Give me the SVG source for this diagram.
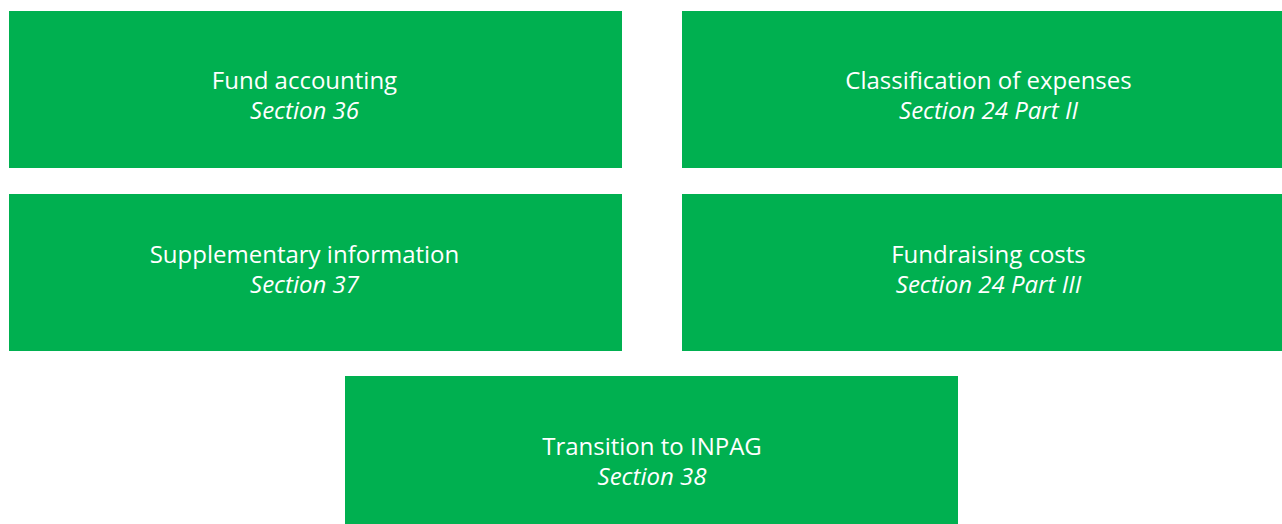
<svg xmlns="http://www.w3.org/2000/svg" width="1282" height="524" viewBox="0 0 1282 524">
<style>
.box{fill:#00B050;}
.t{font-family:"Open Sans","Noto Sans",sans-serif;font-size:24px;fill:#FFFFFF;text-anchor:middle;}
.i{font-style:italic;}
</style>
<rect width="1282" height="524" fill="#FFFFFF"/>
<g id="node-fund">
<rect class="box" x="9" y="11" width="613" height="157"/>
<text class="t" x="304.5" y="89">Fund accounting</text>
<text class="t i" x="304.5" y="119">Section 36</text>
</g>
<g id="node-classification">
<rect class="box" x="682" y="11" width="600" height="157"/>
<text class="t" x="988.5" y="89">Classification of expenses</text>
<text class="t i" x="988.5" y="119">Section 24 Part II</text>
</g>
<g id="node-supplementary">
<rect class="box" x="9" y="194" width="613" height="157"/>
<text class="t" x="304.5" y="263">Supplementary information</text>
<text class="t i" x="304.5" y="293">Section 37</text>
</g>
<g id="node-fundraising">
<rect class="box" x="682" y="194" width="600" height="157"/>
<text class="t" x="988.5" y="263">Fundraising costs</text>
<text class="t i" x="988.5" y="293">Section 24 Part III</text>
</g>
<g id="node-transition">
<rect class="box" x="345" y="376" width="613" height="157"/>
<text class="t" x="652" y="455">Transition to INPAG</text>
<text class="t i" x="652" y="485">Section 38</text>
</g>
<g id="connectors"></g>
</svg>
